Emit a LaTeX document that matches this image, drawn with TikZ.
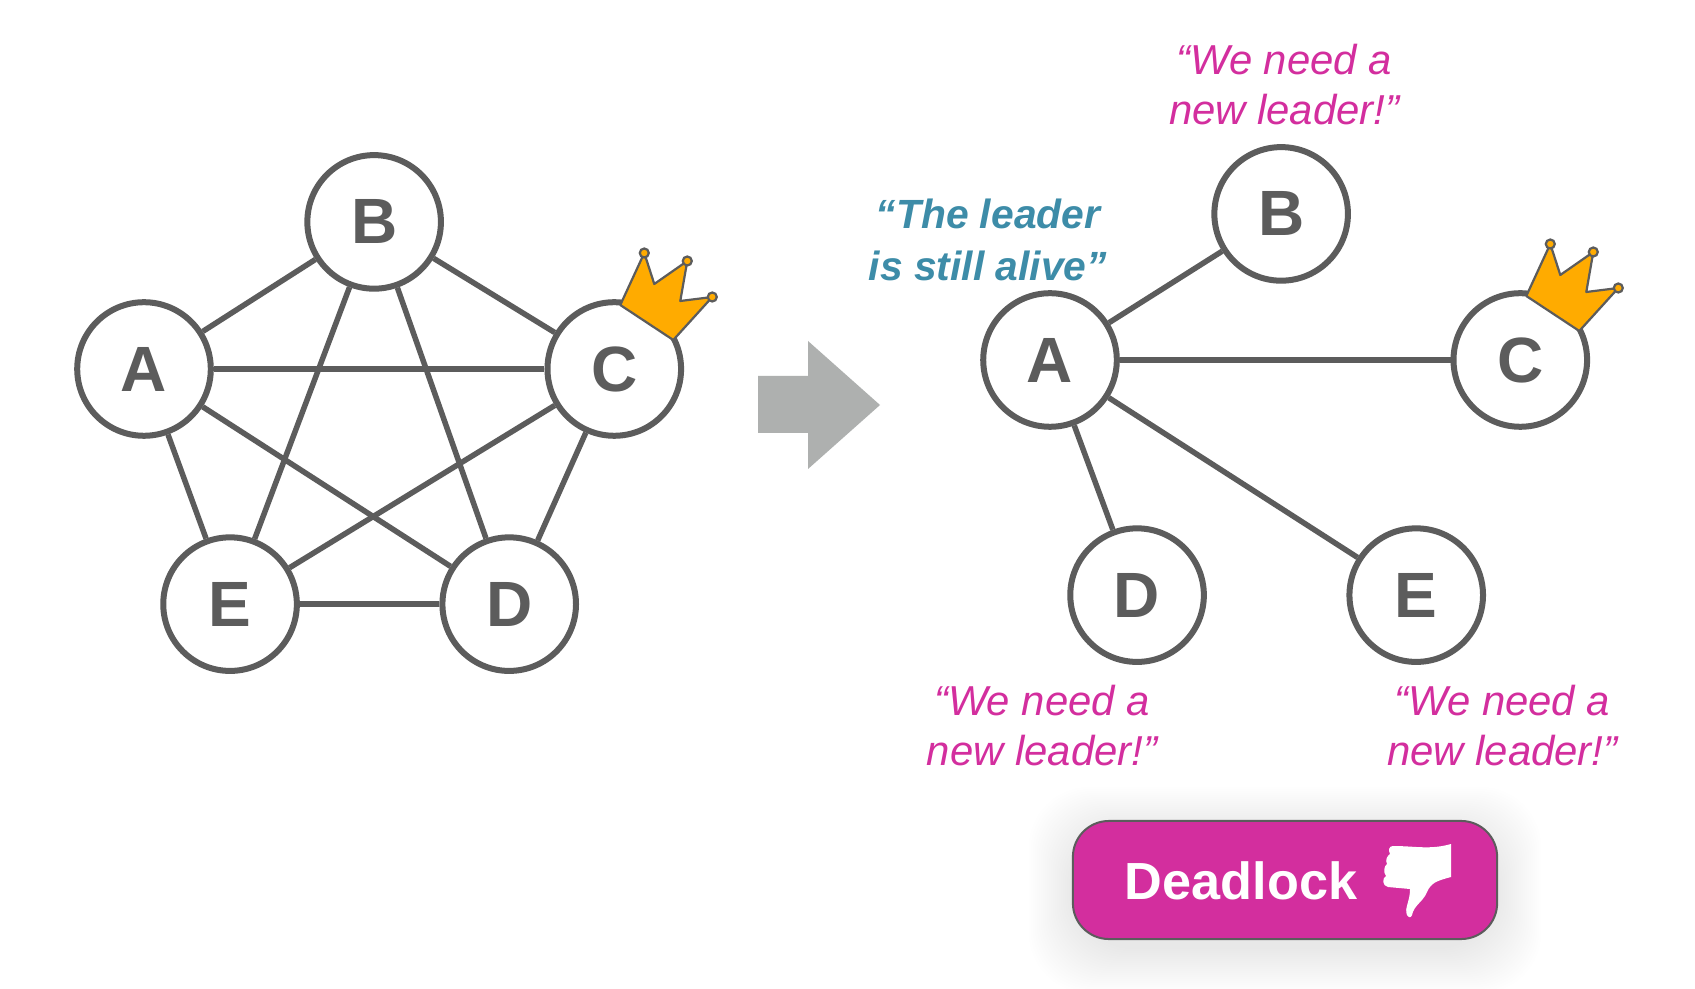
\documentclass[tikz,border=0pt]{standalone}
\usepackage{fontspec}
\setmainfont{Liberation Sans}
\usetikzlibrary{positioning,shapes.geometric}
\definecolor{ringgray}{HTML}{5C5C5C}
\definecolor{arrowgray}{HTML}{AEB0AF}
\definecolor{crowngold}{HTML}{FFAB00}
\definecolor{quotepink}{HTML}{D32E9E}
\definecolor{quoteteal}{HTML}{3D8CA8}
\tikzset{
    peer/.style={circle, draw=ringgray, line width=0.06cm, fill=white, text=ringgray,
        minimum size=1.335cm, inner sep=0pt, font=\fontsize{18.2}{20}\selectfont\bfseries},
    link/.style={draw=ringgray, line width=0.055cm},
    quote/.style={align=center, text=quotepink, font=\fontsize{11.9}{14.2}\selectfont\itshape},
    alive/.style={align=center, text=quoteteal, font=\fontsize{11.6}{14.9}\selectfont\bfseries\itshape},
    deadbox/.style={rectangle, rounded corners=0.36cm, draw=ringgray, line width=0.02cm,
        fill=quotepink, minimum width=4.24cm, minimum height=1.18cm},
    halo/.style={rectangle, rounded corners=0.6cm, fill=black, fill opacity=0.0055, inner sep=0pt},
    crown/.pic={
        \draw[ringgray, line width=0.022cm, line join=round, fill=crowngold]
            (6,-64) -- (30,-116) -- (40,-85) -- (73,-108) -- (66,-68) -- (98,-72) -- (59,-29) -- cycle;
        \draw[ringgray, line width=0.022cm, fill=crowngold] (30,-116) circle [radius=0.045cm];
        \draw[ringgray, line width=0.022cm, fill=crowngold] (73,-108) circle [radius=0.045cm];
        \draw[ringgray, line width=0.022cm, fill=crowngold] (98,-72) circle [radius=0.045cm];
    }
}

\begin{document}
\begin{tikzpicture}[x=0.01cm, y=-0.01cm, on grid]
    \useasboundingbox[fill=white] (0,0) rectangle (1695,989);

    % before
    \node[peer] (a1) at (144,369) {A};
    \node[peer, above right=1.47cm and 2.30cm of a1] (b1) {B};
    \node[peer, right=4.70cm of a1] (c1) {C};
    \node[peer, below right=2.35cm and 0.86cm of a1] (e1) {E};
    \node[peer, below right=2.35cm and 3.65cm of a1] (d1) {D};
    \path[link] (a1) edge (b1) (a1) edge (c1) (a1) edge (d1) (a1) edge (e1);
    \path[link] (b1) edge (c1) (b1) edge (d1) (b1) edge (e1);
    \path[link] (c1) edge (d1) (c1) edge (e1);
    \path[link] (d1) edge (e1);
    \pic at (c1) {crown};

    \fill[arrowgray] (758,376) -- (808,376) -- (808,341) -- (880,405) -- (808,469) -- (808,433) -- (758,433) -- cycle;

    % after
    \node[peer] (a2) at (1050,360) {A};
    \node[peer, above right=1.46cm and 2.31cm of a2] (b2) {B};
    \node[peer, right=4.70cm of a2] (c2) {C};
    \node[peer, below right=2.35cm and 0.87cm of a2] (d2) {D};
    \node[peer, below right=2.35cm and 3.66cm of a2] (e2) {E};
    \path[link] (a2) edge (b2) (a2) edge (c2) (a2) edge (d2) (a2) edge (e2);
    \pic at (c2) {crown};

    \node[quote, above right=1.29cm and 0.03cm of b2] (qb) {“We need a\\new leader!”};
    \node[quote, below right=1.30cm and -0.95cm of d2] (qd) {“We need a\\new leader!”};
    \node[quote, below right=1.30cm and 0.86cm of e2] (qe) {“We need a\\new leader!”};
    \node[alive, above left=1.20cm and 0.62cm of a2] (qa) {“The leader\\is still alive”};

    % button
    \foreach \g in {0,2,...,44}
        \node[halo, minimum width=4.24cm+\g*0.02cm, minimum height=1.18cm+\g*0.02cm] at (1285,890) {};
    \node[deadbox] (btn) at (1285,880) {};
    \node[text=white, font=\fontsize{14.85}{18}\selectfont\bfseries] (lbl) at (1241,881) {Deadlock};
    \fill[white] (1451,844) -- (1451,877) .. controls (1436,881) and (1431,883) .. (1427,892)
        .. controls (1423,902) and (1414,905) .. (1412,915) .. controls (1411,918) and (1409,918) .. (1407,915)
        .. controls (1404,908) and (1410,902) .. (1410,889) -- (1388,887)
        .. controls (1382,886) and (1382,878) .. (1386,876) .. controls (1383,872) and (1384,866) .. (1387,864)
        .. controls (1385,860) and (1387,856) .. (1390,854) .. controls (1388,850) and (1389,846) .. (1393,846)
        .. controls (1415,846) and (1430,850) .. (1451,844) -- cycle;
\end{tikzpicture}
\end{document}
